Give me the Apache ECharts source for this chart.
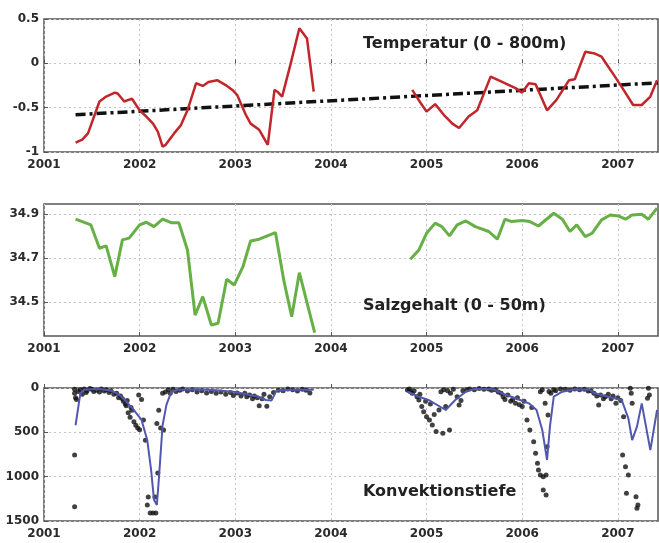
<!DOCTYPE html>
<html><head><meta charset="utf-8">
<script src="https://cdn.jsdelivr.net/npm/echarts@6/dist/echarts.min.js"></script>
<style>html,body{margin:0;padding:0;background:#fff}#c{width:659px;height:543px}</style>
</head><body><div id="c"></div>
<script>
// ---- data ----
const years = [2001, 2002, 2003, 2004, 2005, 2006, 2007];
const tempTicks = [-1, -0.5, 0, 0.5];
const saltTicks = [34.5, 34.7, 34.9];
const depthTicks = [0, 500, 1000, 1500];

const tempA = [[2001.33,-0.895],[2001.40,-0.86],[2001.46,-0.79],[2001.58,-0.43],[2001.65,-0.375],[2001.74,-0.33],[2001.77,-0.34],[2001.84,-0.43],[2001.89,-0.41],[2001.92,-0.40],[2002.0,-0.53],[2002.07,-0.60],[2002.14,-0.68],[2002.19,-0.77],[2002.24,-0.94],[2002.27,-0.92],[2002.36,-0.79],[2002.43,-0.70],[2002.50,-0.53],[2002.59,-0.225],[2002.66,-0.255],[2002.72,-0.21],[2002.81,-0.19],[2002.90,-0.245],[2002.97,-0.30],[2003.02,-0.357],[2003.11,-0.58],[2003.16,-0.68],[2003.25,-0.75],[2003.34,-0.92],[2003.41,-0.30],[2003.44,-0.32],[2003.49,-0.375],[2003.58,0.0],[2003.67,0.395],[2003.75,0.28],[2003.82,-0.32]];
const tempB = [[2004.85,-0.30],[2004.94,-0.45],[2005.0,-0.545],[2005.09,-0.46],[2005.18,-0.58],[2005.27,-0.68],[2005.34,-0.73],[2005.44,-0.60],[2005.53,-0.53],[2005.67,-0.15],[2005.75,-0.19],[2005.93,-0.28],[2006.0,-0.33],[2006.07,-0.225],[2006.14,-0.235],[2006.26,-0.53],[2006.36,-0.41],[2006.49,-0.19],[2006.55,-0.18],[2006.66,0.13],[2006.76,0.11],[2006.83,0.075],[2006.97,-0.15],[2007.06,-0.30],[2007.16,-0.47],[2007.25,-0.47],[2007.34,-0.375],[2007.41,-0.19]];
const tempTrend = [[2001.33,-0.58],[2007.42,-0.22]];

const saltA = [[2001.33,34.876],[2001.40,34.865],[2001.49,34.85],[2001.58,34.744],[2001.65,34.755],[2001.74,34.615],[2001.82,34.782],[2001.89,34.79],[2002.0,34.85],[2002.07,34.862],[2002.15,34.842],[2002.24,34.876],[2002.33,34.86],[2002.41,34.86],[2002.50,34.736],[2002.58,34.44],[2002.66,34.524],[2002.75,34.395],[2002.82,34.403],[2002.91,34.603],[2002.99,34.577],[2003.08,34.66],[2003.16,34.777],[2003.25,34.785],[2003.42,34.815],[2003.51,34.592],[2003.59,34.433],[2003.67,34.633],[2003.83,34.36]];
const saltB = [[2004.83,34.694],[2004.92,34.736],[2005.0,34.812],[2005.09,34.858],[2005.16,34.842],[2005.24,34.80],[2005.32,34.85],[2005.41,34.868],[2005.51,34.842],[2005.65,34.82],[2005.74,34.785],[2005.82,34.876],[2005.89,34.865],[2006.0,34.87],[2006.08,34.865],[2006.17,34.845],[2006.33,34.903],[2006.42,34.876],[2006.50,34.82],[2006.57,34.85],[2006.66,34.797],[2006.73,34.812],[2006.83,34.873],[2006.92,34.895],[2007.01,34.89],[2007.08,34.876],[2007.15,34.895],[2007.25,34.898],[2007.32,34.876],[2007.41,34.926]];

const depthA = [[2001.33,420],[2001.38,60],[2001.42,20],[2001.5,15],[2001.6,15],[2001.7,30],[2001.78,70],[2001.85,140],[2001.94,250],[2002.02,360],[2002.08,590],[2002.12,925],[2002.15,1260],[2002.18,1320],[2002.2,1040],[2002.24,420],[2002.28,190],[2002.33,45],[2002.4,20],[2002.6,15],[2002.8,25],[2003.0,45],[2003.15,80],[2003.25,100],[2003.32,135],[2003.38,140],[2003.43,30],[2003.6,20],[2003.82,20]];
const depthB = [[2004.80,42],[2004.92,98],[2005.02,135],[2005.20,248],[2005.30,135],[2005.41,42],[2005.5,10],[2005.7,15],[2005.79,60],[2005.93,116],[2006.07,173],[2006.15,248],[2006.21,474],[2006.26,812],[2006.29,436],[2006.33,98],[2006.42,42],[2006.55,15],[2006.7,20],[2006.76,60],[2006.90,98],[2007.04,135],[2007.11,342],[2007.15,587],[2007.20,436],[2007.25,173],[2007.34,700],[2007.41,248]];
const depthDots = [[2001.32,15],[2001.32,60],[2001.33,110],[2001.34,130],[2001.32,755],[2001.32,1340],[2001.36,40],[2001.38,20],[2001.4,70],[2001.42,10],[2001.44,50],[2001.45,30],[2001.48,5],[2001.5,15],[2001.52,40],[2001.55,25],[2001.58,45],[2001.6,10],[2001.63,35],[2001.65,20],[2001.68,50],[2001.7,30],[2001.73,70],[2001.76,60],[2001.78,110],[2001.8,90],[2001.82,120],[2001.83,150],[2001.85,180],[2001.86,200],[2001.87,140],[2001.88,280],[2001.9,330],[2001.91,220],[2001.92,250],[2001.94,380],[2001.96,420],[2001.98,450],[2002.0,470],[2001.99,80],[2002.02,130],[2002.04,360],[2002.06,590],[2002.09,1230],[2002.08,1320],[2002.11,1410],[2002.14,1410],[2002.17,1410],[2002.16,1230],[2002.18,400],[2002.19,960],[2002.2,250],[2002.22,450],[2002.25,475],[2002.24,60],[2002.27,45],[2002.3,20],[2002.32,60],[2002.35,15],[2002.38,40],[2002.42,25],[2002.45,10],[2002.5,35],[2002.55,20],[2002.6,45],[2002.65,30],[2002.7,55],[2002.75,40],[2002.8,60],[2002.85,45],[2002.9,70],[2002.95,50],[2002.98,85],[2003.02,55],[2003.06,90],[2003.1,60],[2003.12,100],[2003.15,80],[2003.18,120],[2003.2,90],[2003.23,110],[2003.25,200],[2003.28,120],[2003.33,205],[2003.3,70],[2003.36,100],[2003.4,50],[2003.45,25],[2003.5,30],[2003.55,10],[2003.6,20],[2003.65,35],[2003.7,15],[2003.74,25],[2003.78,55],[2004.8,23],[2004.82,10],[2004.83,40],[2004.85,60],[2004.87,30],[2004.9,100],[2004.92,135],[2004.93,70],[2004.95,210],[2004.97,267],[2004.99,150],[2005.0,323],[2005.03,361],[2005.04,180],[2005.06,417],[2005.08,300],[2005.1,492],[2005.17,511],[2005.24,474],[2005.13,248],[2005.2,210],[2005.15,42],[2005.18,20],[2005.22,30],[2005.25,60],[2005.28,15],[2005.32,98],[2005.34,192],[2005.36,140],[2005.38,30],[2005.42,20],[2005.45,10],[2005.5,20],[2005.55,5],[2005.6,15],[2005.65,10],[2005.68,25],[2005.72,20],[2005.75,45],[2005.78,60],[2005.8,98],[2005.82,130],[2005.85,80],[2005.88,150],[2005.9,130],[2005.93,173],[2005.95,110],[2005.97,190],[2006.0,210],[2006.02,150],[2006.05,361],[2006.08,474],[2006.1,220],[2006.12,605],[2006.14,737],[2006.16,850],[2006.17,925],[2006.19,981],[2006.22,1000],[2006.25,981],[2006.22,1150],[2006.25,1207],[2006.24,173],[2006.27,305],[2006.26,662],[2006.19,42],[2006.21,20],[2006.28,40],[2006.3,60],[2006.33,20],[2006.35,30],[2006.4,10],[2006.45,15],[2006.5,25],[2006.55,10],[2006.6,20],[2006.65,15],[2006.69,35],[2006.72,30],[2006.75,60],[2006.78,90],[2006.8,192],[2006.82,80],[2006.85,120],[2006.87,98],[2006.9,70],[2006.93,120],[2006.95,90],[2006.98,173],[2007.0,110],[2007.03,140],[2007.06,323],[2007.05,756],[2007.08,888],[2007.11,981],[2007.09,1188],[2007.19,1226],[2007.21,1320],[2007.2,1357],[2007.13,4],[2007.14,60],[2007.15,173],[2007.32,4],[2007.33,80],[2007.31,117]];

const titles = ['Temperatur (0 - 800m)', 'Salzgehalt (0 - 50m)', 'Konvektionstiefe'];

// ---- chart ----
const FONT = 'DejaVu Sans';
const labelStyle = {fontFamily: FONT, fontWeight: 'bold', fontSize: 12, color: '#2a2a2a'};
const gridLine = {show: true, lineStyle: {color: '#c4c4c4', type: [2, 3], width: 1}};
const grids = [
  {left: 44, right: 1, top: 19, height: 133},
  {left: 44, right: 1, top: 204, height: 132},
  {left: 44, right: 1, top: 388, height: 133}
].map(g => Object.assign(g, {show: true, borderColor: '#555', borderWidth: 1.5, backgroundColor: '#fff'}));

const xAxes = [0, 1, 2].map(i => ({
  type: 'value', gridIndex: i, min: 2001, max: 2007.42, interval: 1,
  axisLine: {show: false},
  axisTick: {show: true, inside: true, length: 4, lineStyle: {color: '#555'}, customValues: years},
  axisLabel: Object.assign({margin: 7, customValues: years, formatter: v => String(Math.round(v))}, labelStyle),
  splitLine: gridLine
}));

const yAxes = [
  {type: 'value', gridIndex: 0, min: -1, max: 0.5, interval: 0.5,
   axisLabel: Object.assign({margin: 5, customValues: tempTicks, formatter: v => String(v)}, labelStyle),
   axisTick: {show: true, inside: true, length: 4, lineStyle: {color: '#555'}, customValues: tempTicks}},
  {type: 'value', gridIndex: 1, min: 34.345, max: 34.945,
   axisLabel: Object.assign({margin: 5, customValues: saltTicks, formatter: v => v.toFixed(1)}, labelStyle),
   axisTick: {show: true, inside: true, length: 4, lineStyle: {color: '#555'}, customValues: saltTicks}},
  {type: 'value', gridIndex: 2, min: 0, max: 1500, interval: 500, inverse: true,
   axisLabel: Object.assign({margin: 5, customValues: depthTicks, formatter: v => String(v)}, labelStyle),
   axisTick: {show: true, inside: true, length: 4, lineStyle: {color: '#555'}, customValues: depthTicks}}
].map(a => Object.assign(a, {axisLine: {show: false}, splitLine: gridLine}));

function line(data, idx, color, width, type, z) {
  return {type: 'line', data, xAxisIndex: idx, yAxisIndex: idx, showSymbol: false, symbol: 'none',
    lineStyle: {color, width, type: type || 'solid'}, z: z || 3, animation: false, silent: true};
}

const series = [
  line(tempTrend, 0, '#111', 3.5, [10, 4, 3, 4], 2),
  line(tempA, 0, '#c1262b', 2.5),
  line(tempB, 0, '#c1262b', 2.5),
  line(saltA, 1, '#66b045', 3),
  line(saltB, 1, '#66b045', 3),
  {type: 'scatter', data: depthDots, xAxisIndex: 2, yAxisIndex: 2, symbolSize: 5,
   itemStyle: {color: '#111'}, z: 2, animation: false, silent: true},
  line(depthA, 2, '#5257b0', 2, null, 4),
  line(depthB, 2, '#5257b0', 2, null, 4)
];

const titleTops = [31, 293, 479];
const title = titles.map((t, i) => ({text: t, left: 358, top: titleTops[i],
  textStyle: {fontFamily: FONT, fontWeight: 'bold', fontSize: 16, color: '#222'}}));

const chart = echarts.init(document.getElementById('c'), null, {renderer: 'canvas'});
chart.setOption({animation: false, backgroundColor: '#fff', title, grid: grids, xAxis: xAxes, yAxis: yAxes, series});
</script>
</body></html>
